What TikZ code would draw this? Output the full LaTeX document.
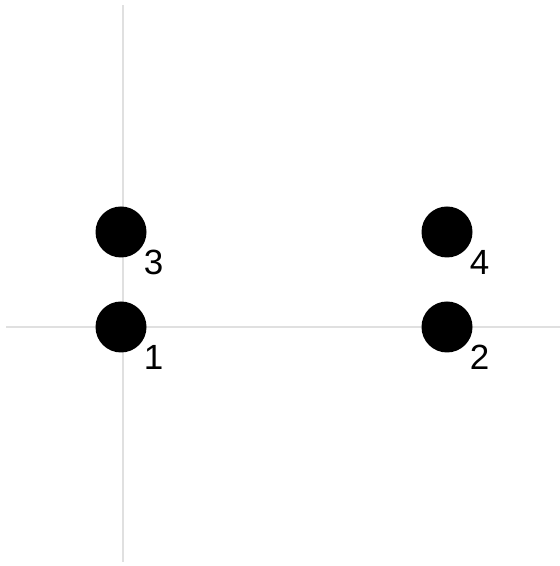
\documentclass[tikz,border=0pt]{standalone}
\usepackage{fontspec}
\setmainfont{Liberation Sans}
\usepackage{tikz}
\tikzstyle{vertex}=[circle, draw=none, fill=black, inner sep=0pt, minimum size=25.5pt]
\tikzstyle{axis}=[line width=1pt, color=black!12]
\tikzstyle{labelsty}=[font=\fontsize{17.5}{20}\selectfont, inner sep=1pt, label distance=0pt]

\begin{document}
\begin{tikzpicture}[x=0.5pt,y=0.5pt]
					\useasboundingbox (0,0) rectangle (560,566);

					\coordinate (ytop) at (122.5,561);
					\coordinate (ybot) at (122.5,4);
					\coordinate (xleft) at (6,238.5);
					\coordinate (xright) at (560,238.5);
					\draw[axis] (ybot) -- (ytop);
					\draw[axis] (xleft) -- (xright);

					\node[vertex,label={[labelsty]-38:1}] (v1) at (121,239) {};
					\node[vertex,label={[labelsty]-38:2}] (v2) at (447,239) {};
					\node[vertex,label={[labelsty]-38:3}] (v3) at (121,334) {};
					\node[vertex,label={[labelsty]-38:4}] (v4) at (447,334) {};

				\end{tikzpicture}
\end{document}
